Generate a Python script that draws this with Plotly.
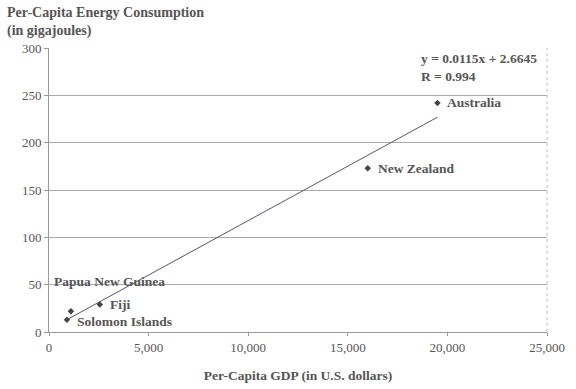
import plotly.graph_objects as go

countries = ["Australia", "New Zealand", "Fiji", "Papua New Guinea", "Solomon Islands"]
gdp = [19500, 16000, 2550, 1100, 900]
energy = [242, 173, 29, 22, 13]
label_shift_x = [8, 8, 8, -19, 8]
label_shift_y = [0, 0, 0, 30, -2]

slope = 0.0115
intercept = 2.6645
trend_x = [900, 19500]
trend_y = [slope * v + intercept for v in trend_x]

x_ticks = [0, 5000, 10000, 15000, 20000, 25000]
y_ticks = [0, 50, 100, 150, 200, 250, 300]

font_family = "Liberation Serif"
text_color = "#555555"

fig = go.Figure()
fig.add_trace(go.Scatter(x=trend_x, y=trend_y, mode="lines",
                         line=dict(color="#555577", width=1), hoverinfo="skip"))
fig.add_trace(go.Scatter(x=gdp, y=energy, mode="markers",
                         marker=dict(symbol="diamond", size=5, color="#444444")))

for c, xv, yv, sx, sy in zip(countries, gdp, energy, label_shift_x, label_shift_y):
    fig.add_annotation(x=xv, y=yv, text="<b>" + c + "</b>", showarrow=False,
                       xanchor="left", yanchor="middle", xshift=sx, yshift=sy,
                       font=dict(family=font_family, size=13.5, color=text_color))

fig.add_annotation(x=0.743, y=0.995, xref="paper", yref="paper",
                   text="<b>y = 0.0115x + 2.6645<br>R = 0.994</b>", showarrow=False,
                   xanchor="left", yanchor="top", align="left",
                   font=dict(family=font_family, size=13.5, color=text_color))

# chart title (y-axis caption) at top-left
fig.add_annotation(x=-44 / 498, y=(332 - 3) / 284, xref="paper", yref="paper",
                   text="<b>Per-Capita Energy Consumption<br>(in gigajoules)</b>",
                   showarrow=False, xanchor="left", yanchor="top", align="left",
                   font=dict(family=font_family, size=14, color=text_color))

fig.update_layout(
    width=576, height=389,
    margin=dict(l=49, r=29, t=48, b=57, autoexpand=False),
    paper_bgcolor="white", plot_bgcolor="white",
    showlegend=False,
    font=dict(family=font_family, color=text_color, size=12),
    xaxis=dict(range=[0, 25000], tickvals=x_ticks, tickformat=",d",
               showgrid=False, zeroline=False, showline=True, linecolor="#999999",
               ticks="outside", ticklen=3, tickcolor="#999999", automargin=False,
               tickfont=dict(family=font_family, size=13, color=text_color),
               title=dict(text="<b>Per-Capita GDP (in U.S. dollars)</b>", standoff=16,
                          font=dict(family=font_family, size=13.5, color=text_color))),
    yaxis=dict(range=[0, 300], tickvals=y_ticks, automargin=False,
               showgrid=True, gridcolor="#aaaaaa", gridwidth=1, zeroline=False,
               showline=True, linecolor="#999999",
               ticks="outside", ticklen=4, tickcolor="#999999",
               tickfont=dict(family=font_family, size=13, color=text_color)),
    shapes=[dict(type="line", xref="paper", yref="paper", x0=1, x1=1, y0=0, y1=1,
                 line=dict(color="#bbbbbb", width=1, dash="dot"))],
)

fig.write_html("out.html", config={"displayModeBar": False},
               post_script="document.body.style.margin='0px';")
